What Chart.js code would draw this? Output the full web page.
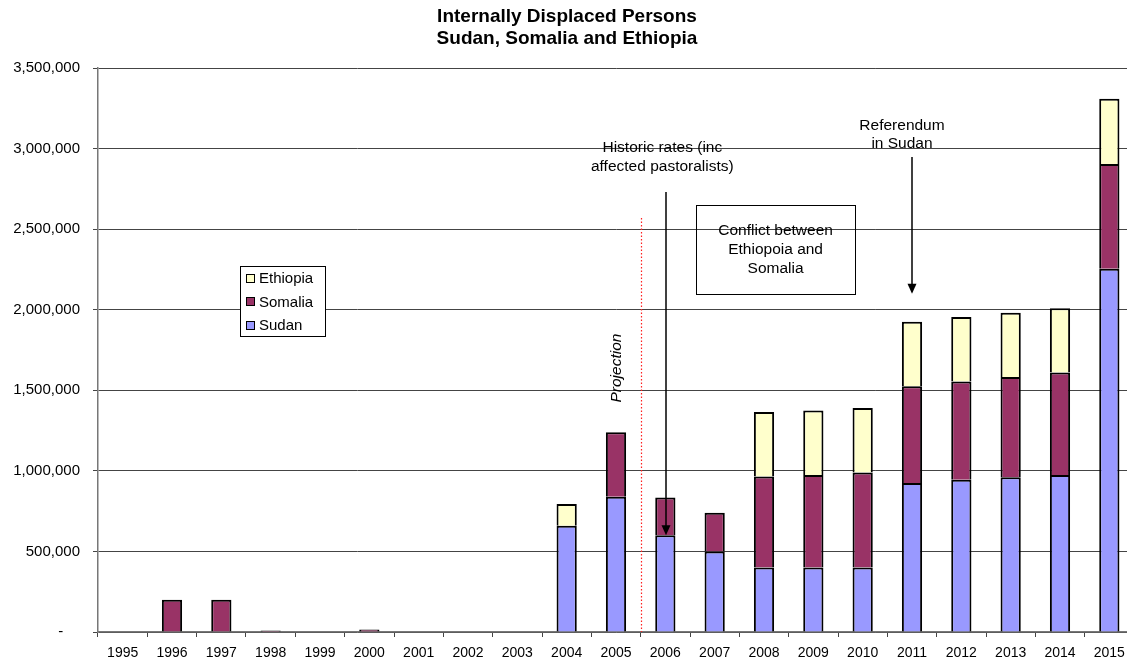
<!DOCTYPE html>
<html>
<head>
<meta charset="utf-8">
<script src="https://cdn.jsdelivr.net/npm/chart.js@4/dist/chart.umd.min.js"></script>
<style>
  html, body { margin: 0; padding: 0; background: #fff; overflow: hidden; }
  #wrap { position: relative; width: 1134px; height: 663px; }
</style>
</head>
<body>
<div id="wrap"><canvas id="chart"></canvas></div>
<script>
const FONT = '"Liberation Sans", Arial, Helvetica, sans-serif';

const years = ['1995', '1996', '1997', '1998', '1999', '2000', '2001', '2002', '2003', '2004',
  '2005', '2006', '2007', '2008', '2009', '2010', '2011', '2012', '2013', '2014', '2015'];
const sudan = [null, null, null, null, null, null, null, null, null, 660000,
  840000, 600000, 500000, 400000, 400000, 400000, 925000, 945000, 960000, 975000, 2255000];
const somalia = [null, 200000, 200000, 9000, null, 15000, null, null, null, null,
  400000, 235000, 240000, 565000, 575000, 590000, 600000, 610000, 622000, 635000, 650000];
const ethiopia = [null, null, null, null, null, null, null, null, null, 135000,
  null, null, null, 400000, 400000, 400000, 400000, 400000, 400000, 400000, 405000];
const yTicks = [0, 500000, 1000000, 1500000, 2000000, 2500000, 3000000, 3500000];

const COLORS = { sudan: '#9999ff', somalia: '#993366', ethiopia: '#ffffcc' };

function arrowDown(ctx, x, y0, y1) {
  ctx.beginPath();
  ctx.moveTo(x, y0);
  ctx.lineTo(x, y1 - 8);
  ctx.stroke();
  ctx.beginPath();
  ctx.moveTo(x, y1);
  ctx.lineTo(x - 4.5, y1 - 10);
  ctx.lineTo(x + 4.5, y1 - 10);
  ctx.closePath();
  ctx.fill();
}

const annotationsPlugin = {
  id: 'idpAnnotations',
  afterDatasetsDraw(chart) {
    const { ctx } = chart;
    const xs = chart.scales.x;
    const ys = chart.scales.y;
    const X = (i) => xs.getPixelForValue(i);
    const Y = (v) => ys.getPixelForValue(v);

    ctx.save();

    // projection divider
    ctx.strokeStyle = '#ff2020';
    ctx.lineWidth = 1.2;
    ctx.setLineDash([1.5, 2]);
    ctx.beginPath();
    ctx.moveTo(Math.round(X(10.5)) + 0.5, Y(2570000));
    ctx.lineTo(Math.round(X(10.5)) + 0.5, Y(0));
    ctx.stroke();
    ctx.setLineDash([]);

    ctx.fillStyle = '#000';
    ctx.strokeStyle = '#000';
    ctx.textAlign = 'center';
    ctx.textBaseline = 'middle';

    // projection label
    ctx.save();
    ctx.translate(X(10.02), Y(1638000));
    ctx.rotate(-Math.PI / 2);
    ctx.font = `italic 15.5px ${FONT}`;
    ctx.fillText('Projection', 0, 0);
    ctx.restore();

    ctx.font = `15.5px ${FONT}`;

    // historic rates
    ctx.fillText('Historic rates (inc', X(11) - 3, Y(3004000));
    ctx.fillText('affected pastoralists)', X(11) - 3, Y(2886000));
    ctx.lineWidth = 1.5;
    arrowDown(ctx, Math.round(X(11)) + 1, Y(2731000), Y(sudan[11]));

    // referendum
    ctx.fillText('Referendum', X(16) - 10, Y(3140000));
    ctx.fillText('in Sudan', X(16) - 10, Y(3029000));
    arrowDown(ctx, Math.round(X(16)), Y(2948000), Y(2100000));

    // conflict box
    const bx0 = X(11.62), bx1 = X(14.85), by0 = Y(2650000), by1 = Y(2098000);
    ctx.lineWidth = 1;
    ctx.strokeRect(Math.round(bx0) + 0.5, Math.round(by0) + 0.5, Math.round(bx1 - bx0), Math.round(by1 - by0));
    const bcx = (bx0 + bx1) / 2;
    ctx.fillText('Conflict between', bcx, Y(2488000));
    ctx.fillText('Ethiopoia and', bcx, Y(2370000));
    ctx.fillText('Somalia', bcx, Y(2253000));

    // legend
    ctx.font = `15px ${FONT}`;
    const lx0 = Math.round(X(2.38)), lx1 = Math.round(X(4.1));
    const ly0 = Math.round(Y(2271000)), ly1 = Math.round(Y(1837000));
    ctx.fillStyle = '#fff';
    ctx.fillRect(lx0, ly0, lx1 - lx0, ly1 - ly0);
    ctx.strokeRect(lx0 + 0.5, ly0 + 0.5, lx1 - lx0, ly1 - ly0);
    const items = chart.data.datasets.slice().reverse();
    ctx.textAlign = 'left';
    items.forEach((ds, i) => {
      const cy = ly0 + 12 + i * 23.4;
      ctx.fillStyle = ds.backgroundColor;
      ctx.fillRect(lx0 + 6, Math.round(cy - 4), 8, 8);
      ctx.strokeRect(lx0 + 6.5, Math.round(cy - 4) + 0.5, 8, 8);
      ctx.fillStyle = '#000';
      ctx.fillText(ds.label, lx0 + 19, cy + 1);
    });

    ctx.restore();
  },
};

function makeDataset(label, data, color) {
  return {
    label,
    data,
    backgroundColor: color,
    borderColor: '#000',
    borderWidth: 2,
    borderSkipped: 'start',
    barPercentage: 0.41,
    categoryPercentage: 1,
  };
}

new Chart(document.getElementById('chart'), {
  type: 'bar',
  data: {
    labels: years,
    datasets: [
      makeDataset('Sudan', sudan, COLORS.sudan),
      makeDataset('Somalia', somalia, COLORS.somalia),
      makeDataset('Ethiopia', ethiopia, COLORS.ethiopia),
    ],
  },
  options: {
    responsive: true,
    maintainAspectRatio: false,
    animation: false,
    layout: { padding: 0 },
    plugins: {
      legend: { display: false },
      tooltip: { enabled: false },
      title: {
        display: true,
        text: ['Internally Displaced Persons', 'Sudan, Somalia and Ethiopia'],
        color: '#000',
        font: { family: FONT, size: 19, weight: 'bold', lineHeight: 1.16 },
        padding: { top: 6, bottom: 18 },
      },
    },
    scales: {
      x: {
        stacked: true,
        offset: true,
        grid: {
          offset: true,
          drawOnChartArea: false,
          drawTicks: true,
          tickLength: 5,
          color: '#444',
        },
        border: { color: '#777', width: 1.5 },
        ticks: {
          color: '#000',
          font: { family: FONT, size: 14 },
          maxRotation: 0,
          autoSkip: false,
          padding: 8,
        },
        afterFit(scale) { scale.height = 31; },
      },
      y: {
        stacked: true,
        min: 0,
        max: 3500000,
        afterBuildTicks(scale) { scale.ticks = yTicks.map((v) => ({ value: v })); },
        grid: { color: '#444', tickLength: 5, lineWidth: 1 },
        border: { color: '#777', width: 1.5 },
        ticks: {
          color: '#000',
          font: { family: FONT, size: 15 },
          padding: 13,
          callback(value) { return value === 0 ? '-    ' : value.toLocaleString('en-US'); },
        },
        afterFit(scale) { scale.width = 98; },
      },
    },
  },
  plugins: [annotationsPlugin],
});
</script>
</body>
</html>
